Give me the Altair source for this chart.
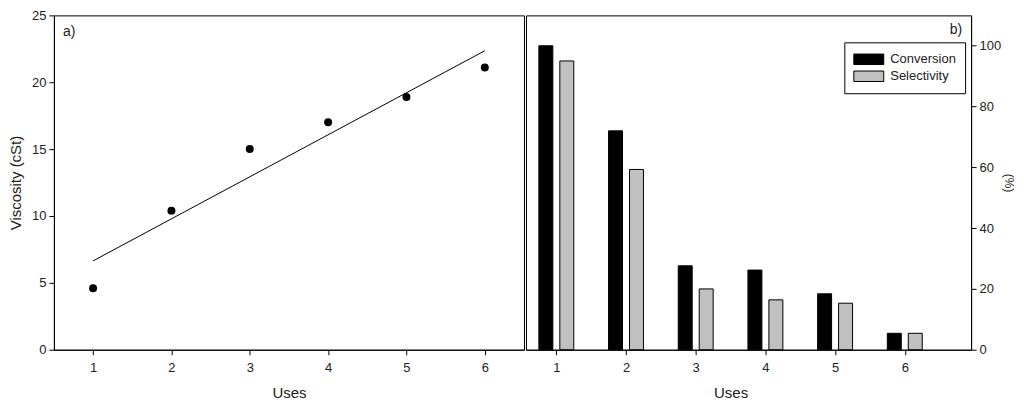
import altair as alt
import pandas as pd

# ---- data ----
uses = [1, 2, 3, 4, 5, 6]
viscosity = [4.6, 10.4, 15.0, 17.0, 18.9, 21.1]
conversion = [100.0, 72.0, 27.6, 26.2, 18.4, 5.4]
selectivity = [95.0, 59.3, 20.0, 16.4, 15.3, 5.4]
series_names = ["Conversion", "Selectivity"]
series_colors = ["#000000", "#c0c0c0"]

FONT = "Liberation Sans"

visc_df = pd.DataFrame({"Uses": uses, "Viscosity": viscosity})
bars_df = pd.DataFrame({
    "Uses": uses * 2,
    "Value": conversion + selectivity,
    "Series": [series_names[0]] * len(uses) + [series_names[1]] * len(uses),
})

PLOT_H = 335

# ---- panel a) ----
xa = alt.X("Uses:Q",
           scale=alt.Scale(domain=[0.5, 6.5], nice=False, zero=False),
           axis=alt.Axis(values=uses, title="Uses", format="d", grid=False,
                         tickSize=5, labelPadding=7, titlePadding=11,
                         titleFontSize=15))
ya = alt.Y("Viscosity:Q",
           scale=alt.Scale(domain=[0, 25], nice=False),
           axis=alt.Axis(values=[0, 5, 10, 15, 20, 25], title="Viscosity (cSt)",
                         grid=False, tickSize=5, labelPadding=3, titlePadding=8,
                         titleFontSize=15))

base_a = alt.Chart(visc_df)
pts = base_a.mark_circle(size=64, color="black", opacity=1).encode(x=xa, y=ya)
fit = base_a.transform_regression("Uses", "Viscosity").mark_line(
    color="black", strokeWidth=1).encode(x=xa, y=ya)
lab_a = alt.Chart(pd.DataFrame({"t": ["a)"]})).mark_text(
    align="left", baseline="top", fontSize=14, font=FONT, color="#222"
).encode(x=alt.value(9), y=alt.value(10), text="t:N")

panel_a = alt.layer(fit, pts, lab_a).properties(width=471, height=PLOT_H)

# ---- panel b) ----
xb = alt.X("Uses:Q",
           scale=alt.Scale(domain=[0.636, 6.88], nice=False, zero=False),
           axis=alt.Axis(values=uses, title="Uses", format="d", grid=False,
                         tickSize=5, labelPadding=7, titlePadding=11,
                         titleFontSize=15, titleX=205))
yb = alt.Y("Value:Q",
           scale=alt.Scale(domain=[0, 110], nice=False),
           axis=alt.Axis(orient="right", values=[0, 20, 40, 60, 80, 100],
                         title="(%)", grid=False, tickSize=5, labelPadding=3,
                         titlePadding=1, titleFontSize=12))
color = alt.Color("Series:N",
                  scale=alt.Scale(domain=series_names, range=series_colors),
                  legend=alt.Legend(
                      title=None, orient="none", legendX=792, legendY=27,
                      symbolType="M-1,-0.7L3,-0.7L3,0.7L-1,0.7Z",
                      symbolSize=225, symbolStrokeColor="black",
                      symbolStrokeWidth=1, symbolOpacity=1,
                      labelFontSize=13, labelFont=FONT, labelColor="#222",
                      padding=9, rowPadding=1, labelOffset=21,
                      strokeColor="black", fillColor="white"))

base_b = alt.Chart(bars_df)
conv = base_b.transform_filter(alt.datum.Series == series_names[0]).mark_bar(
    width=14, xOffset=-10.5, stroke="black", strokeWidth=1, opacity=1
).encode(x=xb, y=yb, color=color)
sel = base_b.transform_filter(alt.datum.Series == series_names[1]).mark_bar(
    width=14, xOffset=10.5, stroke="black", strokeWidth=1, opacity=1
).encode(x=xb, y=yb, color=color)
lab_b = alt.Chart(pd.DataFrame({"t": ["b)"]})).mark_text(
    align="right", baseline="top", fontSize=14, font=FONT, color="#222"
).encode(x=alt.value(437), y=alt.value(8), text="t:N")

panel_b = alt.layer(conv, sel, lab_b).properties(width=446, height=PLOT_H)

chart = alt.hconcat(panel_a, panel_b, spacing=0).properties(
    padding={"left": 0, "top": 0, "right": 0, "bottom": 0}
).configure_view(
    stroke="black", strokeWidth=1
).configure_axis(
    domainColor="black", tickColor="black", labelColor="#222",
    titleColor="#222", labelFont=FONT, titleFont=FONT, labelFontSize=13,
    titleFontWeight="normal"
)

chart.save("out.html", embed_options={"renderer": "svg", "actions": False})
